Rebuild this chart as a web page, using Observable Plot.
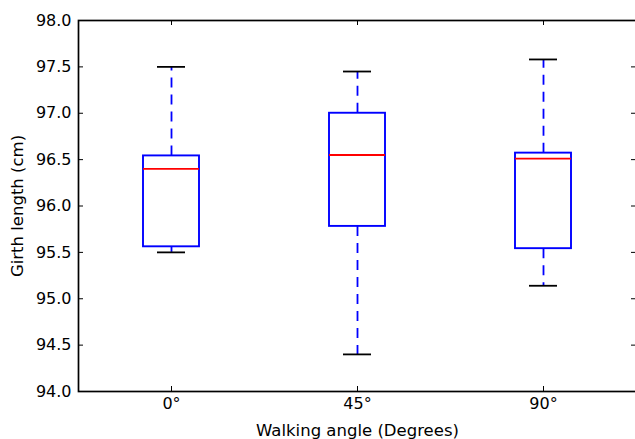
<!DOCTYPE html>
<html>
<head>
<meta charset="utf-8">
<script src="https://cdn.jsdelivr.net/npm/d3@7"></script>
<script src="https://cdn.jsdelivr.net/npm/@observablehq/plot@0.6"></script>
<style>
  html, body { margin: 0; padding: 0; background: #fff; overflow: hidden; }
</style>
</head>
<body>
<div id="chart"></div>
<script>
// Girth length by walking angle: five-number summaries per angle
const angles = ["0°", "45°", "90°"];
const lowerWhisker = [95.50, 94.40, 95.14];
const q1 = [95.56, 95.78, 95.54];
const median = [96.40, 96.55, 96.51];
const q3 = [96.54, 97.00, 96.57];
const upperWhisker = [97.50, 97.45, 97.58];
const yTicks = [94.0, 94.5, 95.0, 95.5, 96.0, 96.5, 97.0, 97.5, 98.0];

const rows = angles.map((angle, i) => ({
  angle,
  lo: lowerWhisker[i],
  q1: q1[i],
  med: median[i],
  q3: q3[i],
  hi: upperWhisker[i]
}));

const tickLen = 5;
const frameW = 635 - 78 + 1;
const frameH = 439 - 20 - 48;

const chart = Plot.plot({
  width: 635,
  height: 439,
  marginLeft: 78,
  marginRight: -1,
  marginTop: 20,
  marginBottom: 48,
  style: { fontFamily: "DejaVu Sans", fontSize: "16px", color: "black", background: "white" },
  x: { type: "band", domain: angles, paddingInner: 0.7, paddingOuter: 0.35, align: 0.5 },
  y: { domain: [94, 98] },
  marks: [
    // whiskers
    Plot.ruleX(rows, { x: "angle", y1: "q3", y2: "hi", stroke: "#0000ff", strokeWidth: 1.8, strokeDasharray: "10,7" }),
    Plot.ruleX(rows, { x: "angle", y1: "q1", y2: "lo", stroke: "#0000ff", strokeWidth: 1.8, strokeDasharray: "10,7" }),
    // boxes
    Plot.barY(rows, { x: "angle", y1: "q1", y2: "q3", fill: "none", stroke: "#0000ff", strokeWidth: 1.9 }),
    // medians
    Plot.tickY(rows, { x: "angle", y: "med", stroke: "#ff0000", strokeWidth: 1.8 }),
    // whisker caps
    Plot.tickY(rows, { x: "angle", y: "lo", insetLeft: 14, insetRight: 14, stroke: "black", strokeWidth: 1.8 }),
    Plot.tickY(rows, { x: "angle", y: "hi", insetLeft: 14, insetRight: 14, stroke: "black", strokeWidth: 1.8 }),
    // inward tick marks on all four sides
    Plot.tickY(yTicks, { y: d => d, insetRight: frameW - tickLen, stroke: "black" }),
    Plot.tickY(yTicks, { y: d => d, insetLeft: frameW - tickLen, stroke: "black" }),
    Plot.tickX(angles, { x: d => d, insetTop: frameH - tickLen, stroke: "black" }),
    Plot.tickX(angles, { x: d => d, insetBottom: frameH - tickLen, stroke: "black" }),
    // tick labels
    Plot.axisY(yTicks, { tickSize: 0, tickPadding: 7, tickFormat: d => d.toFixed(1), label: null, fontSize: 16 }),
    Plot.axisX(angles, { tickSize: 0, tickPadding: 6, label: null, fontSize: 16 }),
    // axis titles
    Plot.text(["Girth length (cm)"], { text: d => d, frameAnchor: "left", dx: -61, rotate: -90, textAnchor: "middle", lineAnchor: "middle", fontSize: 16.5, fill: "black" }),
    Plot.text(["Walking angle (Degrees)"], { text: d => d, frameAnchor: "bottom", dy: 39, textAnchor: "middle", lineAnchor: "middle", fontSize: 16.5, fill: "black" }),
    Plot.frame({ stroke: "black", strokeWidth: 1.7 })
  ]
});

document.getElementById("chart").appendChild(chart);
</script>
</body>
</html>
